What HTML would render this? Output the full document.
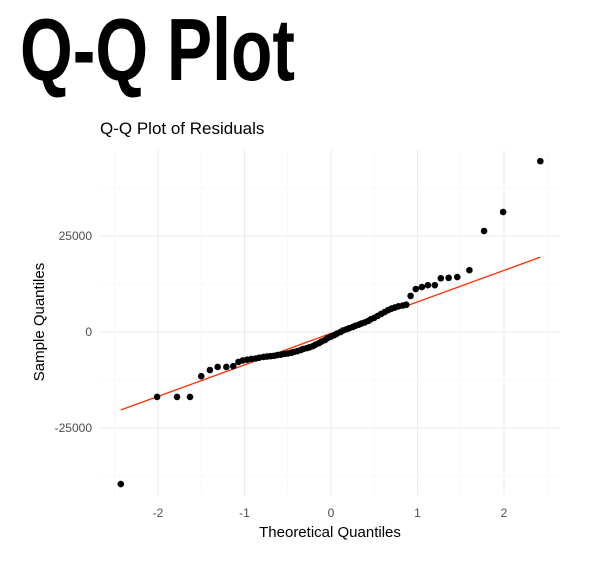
<!DOCTYPE html>
<html><head><meta charset="utf-8"><style>
body{margin:0;background:#fff;}
svg{display:block;font-family:"Liberation Sans",sans-serif;}
</style></head><body>
<svg id="chart" width="595" height="566" viewBox="0 0 595 566">
<text x="20" y="80" font-size="88" font-weight="bold" textLength="275" lengthAdjust="spacingAndGlyphs" fill="#000">Q-Q Plot</text>
<text x="100" y="134" font-size="17" fill="#000">Q-Q Plot of Residuals</text>
<g id="grid"></g><g id="ticks"></g>
<g id="line"></g><g id="points"></g>
<text x="330" y="537" font-size="15" text-anchor="middle" fill="#000">Theoretical Quantiles</text>
<text transform="translate(44,322) rotate(-90)" font-size="15" text-anchor="middle" fill="#000">Sample Quantiles</text>
</svg>
<script>
const theoretical=[-2.43,-2.01,-1.78,-1.63,-1.50,-1.40,-1.31,-1.21,-1.13,-1.07,
-1.02,-0.97,-0.92,-0.87,-0.83,-0.78,-0.74,-0.70,-0.66,-0.62,
-0.58,-0.54,-0.50,-0.46,-0.43,-0.39,-0.35,-0.32,-0.28,-0.25,
-0.21,-0.18,-0.14,-0.11,-0.07,-0.04,0,0.04,0.07,0.11,
0.14,0.18,0.21,0.25,0.28,0.32,0.35,0.39,0.43,0.46,
0.50,0.54,0.58,0.62,0.66,0.70,0.74,0.78,0.83,0.87,
0.92,0.98,1.05,1.12,1.20,1.27,1.36,1.46,1.60,1.77,1.99,2.42];
const sample=[-39600,-16900,-16900,-16900,-11500,-9900,-9100,-9100,-8900,-7800,
-7400,-7200,-7000,-6900,-6700,-6500,-6400,-6300,-6200,-6000,
-5900,-5700,-5600,-5400,-5200,-5000,-4700,-4400,-4200,-4000,
-3700,-3300,-2900,-2500,-2100,-1600,-1200,-800,-400,0,
400,700,1000,1300,1600,1900,2200,2500,2900,3300,
3700,4200,4700,5200,5700,6100,6400,6700,6900,7100,
9400,11200,11700,12200,12200,14000,14100,14300,16100,26300,31250,44500];
const xTicks=[-2,-1,0,1,2];
const yTicks=[-25000,0,25000];
const lineX=[-2.43,2.42];
const lineY=[-20300,19500];

const NS="http://www.w3.org/2000/svg";
const X0=100,X1=560,Y0=150,Y1=495;
const sx=v=>331+v*86.5;
const sy=v=>332-v*0.00384;
function mk(tag,attrs,parent){const e=document.createElementNS(NS,tag);for(const k in attrs)e.setAttribute(k,attrs[k]);document.getElementById(parent).appendChild(e);return e;}
// grid
for(let i=0;i<xTicks.length;i++){
  const e=mk('line',{x1:sx(xTicks[i]),x2:sx(xTicks[i]),y1:Y0,y2:Y1,stroke:'#ebebeb','stroke-width':1.1},'grid');
  
  
  const m=sx(xTicks[i]-0.5);
  const e2=mk('line',{x1:m,x2:m,y1:Y0,y2:Y1,stroke:'#f4f4f4','stroke-width':0.6},'grid');
  
  
  const t=mk('text',{x:sx(xTicks[i]),y:517,'font-size':12,'text-anchor':'middle',fill:'#4d4d4d'},'ticks');
  t.textContent=String(xTicks[i]);
  
  
}
{const m=sx(2.5);const e2=mk('line',{x1:m,x2:m,y1:Y0,y2:Y1,stroke:'#f4f4f4','stroke-width':0.6},'grid');

}
for(let i=0;i<yTicks.length;i++){
  const e=mk('line',{x1:X0,x2:X1,y1:sy(yTicks[i]),y2:sy(yTicks[i]),stroke:'#ebebeb','stroke-width':1.1},'grid');
  
  
  const t=mk('text',{x:92,y:sy(yTicks[i])+4,'font-size':12,'text-anchor':'end',fill:'#4d4d4d'},'ticks');
  t.textContent=String(yTicks[i]);
  
  
}
[-37500,-12500,12500,37500].forEach(v=>{
  const e=mk('line',{x1:X0,x2:X1,y1:sy(v),y2:sy(v),stroke:'#f4f4f4','stroke-width':0.6},'grid');
  
  
});
const ln=mk('line',{x1:sx(lineX[0]),y1:sy(lineY[0]),x2:sx(lineX[1]),y2:sy(lineY[1]),stroke:'#ff2a00','stroke-width':1.3},'line');


for(let i=0;i<theoretical.length;i++){
  const c=mk('circle',{cx:sx(theoretical[i]),cy:sy(sample[i]),r:3.3,fill:'#000'},'points');
  
  
}
</script>
</body></html>
